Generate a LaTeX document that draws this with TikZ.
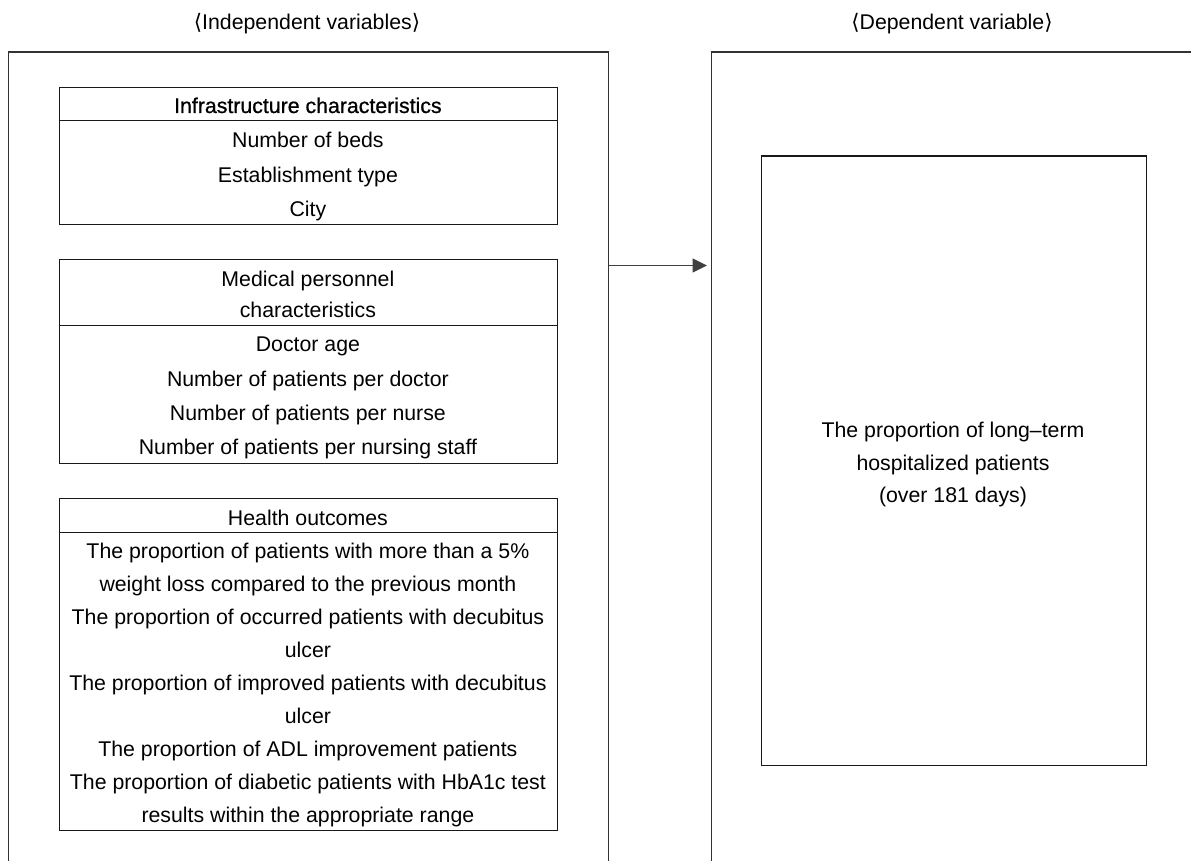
\documentclass[tikz,border=0pt]{standalone}
\usepackage{fontspec}
\setmainfont{Liberation Sans}
\newfontfamily\djv{DejaVu Sans}
\newfontfamily\semib[FakeBold=0.8]{Liberation Sans}
\usetikzlibrary{arrows.meta}
\newcommand\myfs{\fontsize{21.3pt}{25pt}\selectfont}
\begin{document}
\begin{tikzpicture}[x=1pt,y=-1pt,
  outer/.style={draw=black!80, line width=1.1pt, rectangle, inner sep=0pt, anchor=north west},
  inbox/.style={draw=black!90, line width=1.1pt, rectangle, inner sep=0pt, anchor=north west, minimum width=498.3pt},
  sepline/.style={draw=black!90, line width=1.1pt},
  txt/.style={font=\myfs, inner sep=0pt, anchor=base},
  conn/.style={draw=black!75, line width=1.1pt, shorten >=4pt, -{Triangle[length=14.4pt,width=14pt]}}]
\useasboundingbox (0,0) rectangle (1191,861);
\clip (0,0) rectangle (1191,861);
\fill[white] (0,0) rectangle (1191,861);

% outer frames (open at the bottom)
\node[outer, minimum width=600pt, minimum height=900pt] (indep) at (7.5,51.5) {};
\node[outer, minimum width=600pt, minimum height=900pt] (dep) at (711,51.5) {};

% headers
\node[txt] (hind) at (307,29.3) {{\djv ⟨}Independent variables{\djv ⟩}};
\node[txt] (hdep) at (952,29.3) {{\djv ⟨}Dependent variable{\djv ⟩}};

% connector
\draw[conn] (indep.north east |- 0,265.5) -- (dep.north west |- 0,265.5);

% box 1
\node[inbox, minimum height=137.3pt] (box1) at (58.7,86.7) {};
\draw[sepline] (box1.west |- 0,120.7) -- (box1.east |- 0,120.7);
\node[txt] (t1) at (307.9,113) {{\semib Infrastructure characteristics}};
\foreach \s/\y [count=\i] in {Number of beds/148, Establishment type/182.5, City/217}
  \node[txt] (r1-\i) at (307.9,\y) {\s};

% box 2
\node[inbox, minimum height=204.3pt] (box2) at (58.7,259) {};
\draw[sepline] (box2.west |- 0,325.3) -- (box2.east |- 0,325.3);
\node[txt] (t2a) at (307.9,286) {Medical personnel};
\node[txt] (t2b) at (307.9,317.5) {characteristics};
\foreach \s/\y [count=\i] in {Doctor age/351.7, Number of patients per doctor/386, Number of patients per nurse/420.3, Number of patients per nursing staff/454.6}
  \node[txt] (r2-\i) at (307.9,\y) {\s};

% box 3
\node[inbox, minimum height=331.7pt] (box3) at (58.7,498.3) {};
\draw[sepline] (box3.west |- 0,532.3) -- (box3.east |- 0,532.3);
\node[txt] (t3) at (307.9,525) {Health outcomes};
\foreach \s/\y [count=\i] in {
  The proportion of patients with more than a 5\%/558.3,
  weight loss compared to the previous month/591.3,
  The proportion of occurred patients with decubitus/624.2,
  ulcer/657.2,
  The proportion of improved patients with decubitus/690.1,
  ulcer/723.1,
  The proportion of ADL improvement patients/756.1,
  The proportion of diabetic patients with HbA1c test/789,
  results within the appropriate range/822}
  \node[txt] (r3-\i) at (307.9,\y) {\s};

% dependent variable box
\node[inbox, minimum width=384.7pt, minimum height=609pt] (res) at (761,155.5) {};
\node[txt] (d1) at (953,437.3) {The proportion of long--term};
\node[txt] (d2) at (953,470) {hospitalized patients};
\node[txt] (d3) at (953,502.5) {(over 181 days)};
\end{tikzpicture}
\end{document}
